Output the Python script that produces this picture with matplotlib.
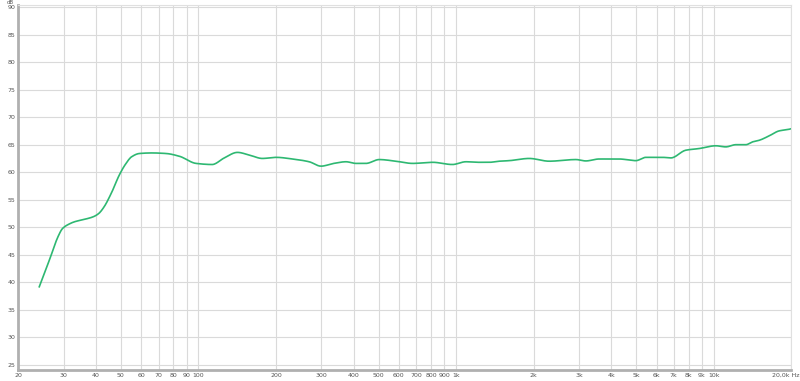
import numpy as np
import matplotlib
matplotlib.use("Agg")
import matplotlib.pyplot as plt
import matplotlib.transforms as mtrans

# frequency response (Hz, dB)
freq_hz = [24.1, 26.5, 28.5, 29.7, 31.5, 33, 36.5, 39, 41, 43, 46, 49.3, 52, 55,
           59, 66, 74.8, 84.3, 97.9, 113, 126, 141.6, 158, 177, 200, 232, 269, 299,
           335, 374, 408, 447, 503, 584, 678, 811, 968, 1092, 1230, 1345, 1471,
           1608, 1924, 2299, 2918, 3190, 3594, 4296, 4989, 5457, 6324, 6825, 7800,
           8786, 10196, 11150, 12190, 13340, 14140, 15030, 16420, 17940, 19640,
           20000]
spl_db = [39.2, 44.3, 48.3, 49.8, 50.6, 51.0, 51.5, 51.9, 52.5, 53.7, 56.3, 59.5,
          61.4, 62.8, 63.4, 63.5, 63.4, 62.9, 61.6, 61.4, 62.6, 63.6, 63.1, 62.5,
          62.7, 62.4, 61.9, 61.1, 61.6, 61.9, 61.6, 61.6, 62.3, 62.0, 61.6, 61.8,
          61.4, 61.9, 61.8, 61.8, 62.0, 62.1, 62.5, 62.0, 62.3, 62.05, 62.4, 62.4,
          62.1, 62.7, 62.7, 62.6, 64.0, 64.3, 64.8, 64.6, 65.0, 65.0, 65.5, 65.8,
          66.6, 67.5, 67.8, 67.9]

x_ticks = [20, 30, 40, 50, 60, 70, 80, 90, 100, 200, 300, 400, 500, 600, 700, 800,
           900, 1000, 2000, 3000, 4000, 5000, 6000, 7000, 8000, 9000, 10000, 20000]
x_labels = ["20", "30", "40", "50", "60", "70", "80", "90", "100", "200", "300",
            "400", "500", "600", "700", "800", "900", "1k", "2k", "3k", "4k", "5k",
            "6k", "7k", "8k", "9k", "10k", "20,0k Hz"]
y_ticks = list(range(25, 91, 5))

fig = plt.figure(figsize=(8, 3.81), dpi=100)
ax = fig.add_axes([0.023, 0.029, 0.966, 0.957])

# smooth the read points in log-frequency so the trace looks like the original
lf = np.log10(freq_hz)
lf_dense = np.linspace(lf[0], lf[-1], 800)
try:
    from scipy.interpolate import PchipInterpolator
    spl_dense = PchipInterpolator(lf, spl_db)(lf_dense)
except ImportError:
    spl_dense = np.interp(lf_dense, lf, spl_db)
ax.plot(10 ** lf_dense, spl_dense, color="#2eb872", lw=1.2)

ax.set_xscale("log")
ax.set_xlim(20, 20000)
ax.set_ylim(24.1, 90.3)
ax.set_xticks(x_ticks)
ax.set_xticklabels(x_labels)
ax.minorticks_off()
ax.set_yticks(y_ticks)
ax.grid(True, color="#dadada", lw=0.8)
ax.tick_params(length=0, labelsize=4.5, colors="#555555", pad=2)

# last label ("20,0k Hz") sits against the right edge
last = ax.get_xticklabels()[-1]
last.set_horizontalalignment("right")
last.set_transform(last.get_transform() +
                   mtrans.ScaledTranslation(0.08, 0, fig.dpi_scale_trans))

for side in ["top", "right"]:
    ax.spines[side].set_color("#e0e0e0")
for side in ["left", "bottom"]:
    ax.spines[side].set_color("#b0b0b0")
    ax.spines[side].set_linewidth(2)

fig.text(0.008, 1.0, "dB", fontsize=4, color="#555555", va="top")

fig.savefig("out.png", dpi=100, facecolor="white")
